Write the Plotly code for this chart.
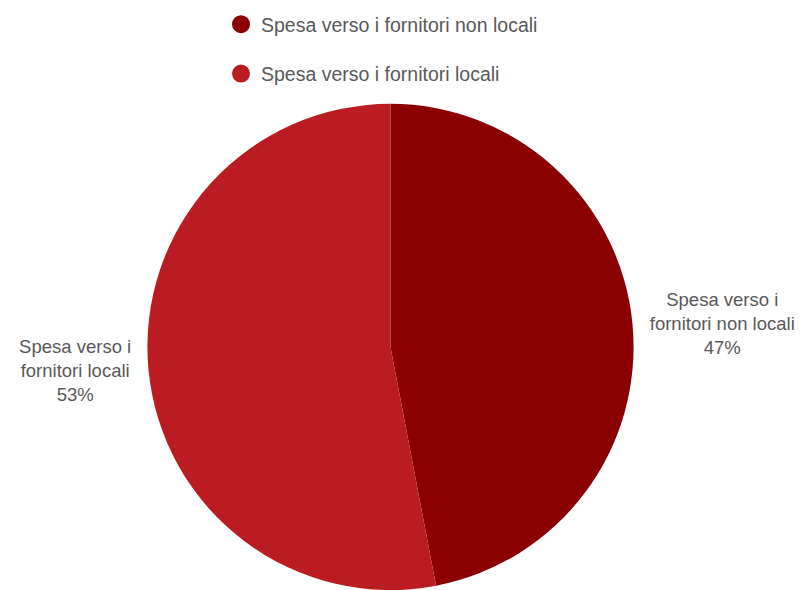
import plotly.graph_objects as go

labels = ["Spesa verso i fornitori non locali", "Spesa verso i fornitori locali"]
values = [47, 53]
colors = ["#8B0000", "#BB1C21"]

wrapped = [l.replace("verso i ", "verso i<br>") for l in labels]

FONT = "Liberation Sans, Arial, Helvetica, sans-serif"

fig = go.Figure()
fig.add_trace(go.Pie(
    labels=labels,
    values=values,
    text=wrapped,
    texttemplate="%{text}<br>%{percent:.0%}",
    textposition="outside",
    sort=False,
    direction="clockwise",
    rotation=0,
    automargin=False,
    marker=dict(colors=colors, line=dict(width=0)),
    textfont=dict(family=FONT, size=18.5, color="#595959"),
    showlegend=False,
    domain=dict(x=[0.1816, 0.7934], y=[0, 0.824]),
    hoverinfo="label+percent",
))

for i, (lab, col) in enumerate(zip(labels, colors)):
    fig.add_trace(go.Scatter(
        x=[None], y=[None], mode="markers", name=lab,
        legendgroup=f"g{i}",
        marker=dict(symbol="circle", size=16, color=col, line=dict(width=2, color=col)),
    ))

fig.update_layout(
    width=801, height=590,
    margin=dict(l=0, r=0, t=0, b=0, autoexpand=False),
    paper_bgcolor="white", plot_bgcolor="white",
    xaxis=dict(visible=False), yaxis=dict(visible=False),
    legend=dict(
        x=221 / 801, xanchor="left", y=1 - 5 / 590, yanchor="top",
        font=dict(family=FONT, size=19.5, color="#595959"),
        tracegroupgap=21, bgcolor="rgba(0,0,0,0)",
    ),
    font=dict(family=FONT, color="#595959"),
)

fig.write_html("out.html")
